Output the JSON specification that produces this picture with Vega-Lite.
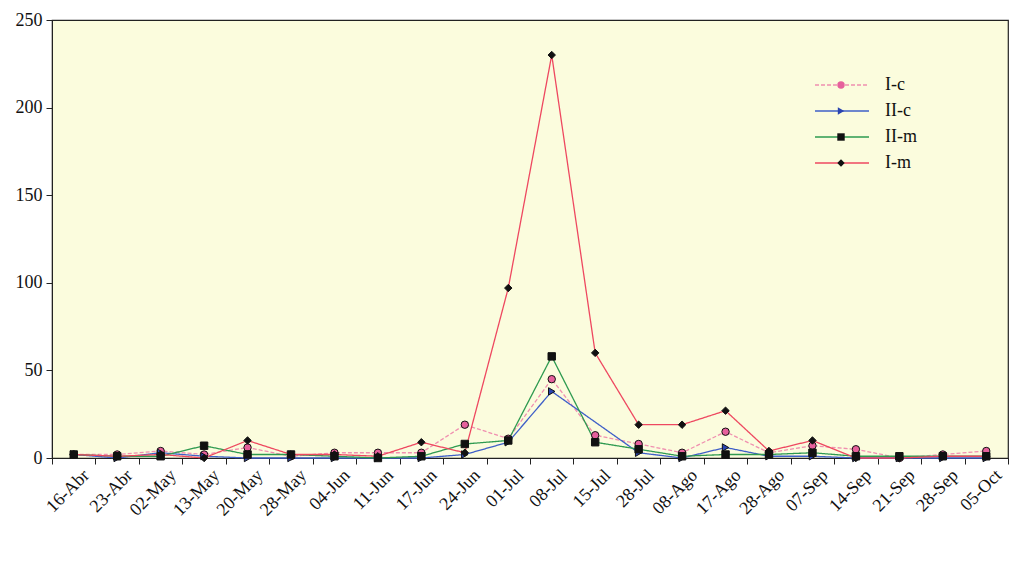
{
  "$schema": "https://vega.github.io/schema/vega-lite/v6.json",
  "width": 956,
  "height": 438,
  "autosize": {"type": "none"},
  "padding": {"left": 52, "top": 20, "right": 6, "bottom": 110},
  "background": "white",
  "config": {
    "view": {"fill": "#fbfcdd", "stroke": "#222", "strokeWidth": 1.2},
    "font": "Liberation Serif",
    "axis": {"labelFont": "Liberation Serif", "labelColor": "#111", "domainColor": "#222", "tickColor": "#222", "grid": false, "labelFontSize": 18}
  },
  "datasets": {
    "pts": [
      {"date": "16-Abr", "I-c": 2, "II-c": 2, "II-m": 2, "I-m": 2},
      {"date": "23-Abr", "I-c": 2, "II-c": 0, "II-m": 1, "I-m": 1},
      {"date": "02-May", "I-c": 4, "II-c": 3, "II-m": 1, "I-m": 2},
      {"date": "13-May", "I-c": 2, "II-c": 1, "II-m": 7, "I-m": 0},
      {"date": "20-May", "I-c": 6, "II-c": 0, "II-m": 2, "I-m": 10},
      {"date": "28-May", "I-c": 1, "II-c": 0, "II-m": 2, "I-m": 2},
      {"date": "04-Jun", "I-c": 3, "II-c": 0, "II-m": 1, "I-m": 2},
      {"date": "11-Jun", "I-c": 3, "II-c": 0, "II-m": 0, "I-m": 1},
      {"date": "17-Jun", "I-c": 3, "II-c": 0, "II-m": 1, "I-m": 9},
      {"date": "24-Jun", "I-c": 19, "II-c": 2, "II-m": 8, "I-m": 3},
      {"date": "01-Jul", "I-c": 11, "II-c": 9, "II-m": 10, "I-m": 97},
      {"date": "08-Jul", "I-c": 45, "II-c": 38, "II-m": 58, "I-m": 230},
      {"date": "15-Jul", "I-c": 13, "II-c": null, "II-m": 9, "I-m": 60},
      {"date": "28-Jul", "I-c": 8, "II-c": 3, "II-m": 5, "I-m": 19},
      {"date": "08-Ago", "I-c": 3, "II-c": 0, "II-m": 1, "I-m": 19},
      {"date": "17-Ago", "I-c": 15, "II-c": 6, "II-m": 2, "I-m": 27},
      {"date": "28-Ago", "I-c": 3, "II-c": 1, "II-m": 2, "I-m": 4},
      {"date": "07-Sep", "I-c": 7, "II-c": 1, "II-m": 3, "I-m": 10},
      {"date": "14-Sep", "I-c": 5, "II-c": 0, "II-m": 1, "I-m": 0},
      {"date": "21-Sep", "I-c": 0, "II-c": 0, "II-m": 1, "I-m": 0},
      {"date": "28-Sep", "I-c": 2, "II-c": 0, "II-m": 1, "I-m": 1},
      {"date": "05-Oct", "I-c": 4, "II-c": 0, "II-m": 1, "I-m": 1}
    ]
  },
  "data": {"name": "pts"},
  "transform": [
    {"fold": ["I-c", "II-c", "II-m", "I-m"], "as": ["series", "value"]},
    {"filter": "datum.value != null"}
  ],
  "encoding": {
    "x": {
      "field": "date", "type": "nominal", "sort": null,
      "scale": {"paddingInner": 0, "paddingOuter": 0},
      "axis": {"title": null, "labelAngle": -45, "labelAlign": "right", "labelBaseline": "top", "tickBand": "extent", "tickSize": 6, "labelPadding": 2, "labelOffset": 6, "labelFontSize": 18}
    },
    "y": {
      "field": "value", "type": "quantitative",
      "scale": {"domain": [0, 250], "nice": false},
      "axis": {"title": null, "values": [0, 50, 100, 150, 200, 250], "tickSize": 6, "labelPadding": 4}
    }
  },
  "layer": [
    {
      "mark": {"type": "line", "strokeWidth": 1.3},
      "encoding": {
        "color": {
          "field": "series", "type": "nominal",
          "scale": {"domain": ["I-c", "II-c", "II-m", "I-m"], "range": ["#f08fb0", "#3f5fc8", "#2e9a50", "#ee4860"]},
          "legend": {"title": null, "orient": "none", "legendX": 780, "legendY": 55, "labelFont": "Liberation Serif", "labelFontSize": 18, "labelColor": "#111", "rowPadding": 7, "symbolType": "M-3,0H3", "symbolSize": 324, "symbolStrokeWidth": 1.3, "labelOffset": 33}
        },
        "strokeDash": {
          "field": "series", "type": "nominal",
          "scale": {"domain": ["I-c", "II-c", "II-m", "I-m"], "range": [[4, 2], [1, 0], [1, 0], [1, 0]]},
          "legend": {"title": null, "orient": "none", "legendX": 780, "legendY": 55, "labelFont": "Liberation Serif", "labelFontSize": 18, "labelColor": "#111", "rowPadding": 7, "symbolType": "M-3,0H3", "symbolSize": 324, "symbolStrokeWidth": 1.3, "labelOffset": 33}
        }
      }
    },
    {
      "mark": {"type": "point", "filled": true, "size": 55, "stroke": "#111", "strokeWidth": 1, "opacity": 1},
      "encoding": {
        "shape": {
          "field": "series", "type": "nominal",
          "scale": {"domain": ["I-c", "II-c", "II-m", "I-m", "zz"], "range": ["circle", "triangle-right", "square", "diamond", "circle"]},
          "legend": {"title": null, "orient": "none", "legendX": 780, "legendY": 56, "values": ["I-c", "II-c", "II-m", "I-m"], "labelFont": "Liberation Serif", "labelFontSize": 18, "labelOpacity": 0, "rowPadding": 8, "symbolSize": 55, "symbolStrokeColor": "#111", "symbolStrokeWidth": 1}
        },
        "fill": {
          "field": "series", "type": "nominal",
          "scale": {"domain": ["I-c", "II-c", "II-m", "I-m", "zz"], "range": ["#e6609c", "#2a44b0", "#111111", "#111111", "#111111"]},
          "legend": {"title": null, "orient": "none", "legendX": 780, "legendY": 56, "values": ["I-c", "II-c", "II-m", "I-m"], "labelFont": "Liberation Serif", "labelFontSize": 18, "labelOpacity": 0, "rowPadding": 8, "symbolSize": 55, "symbolStrokeColor": "#111", "symbolStrokeWidth": 1}
        }
      }
    }
  ]
}
